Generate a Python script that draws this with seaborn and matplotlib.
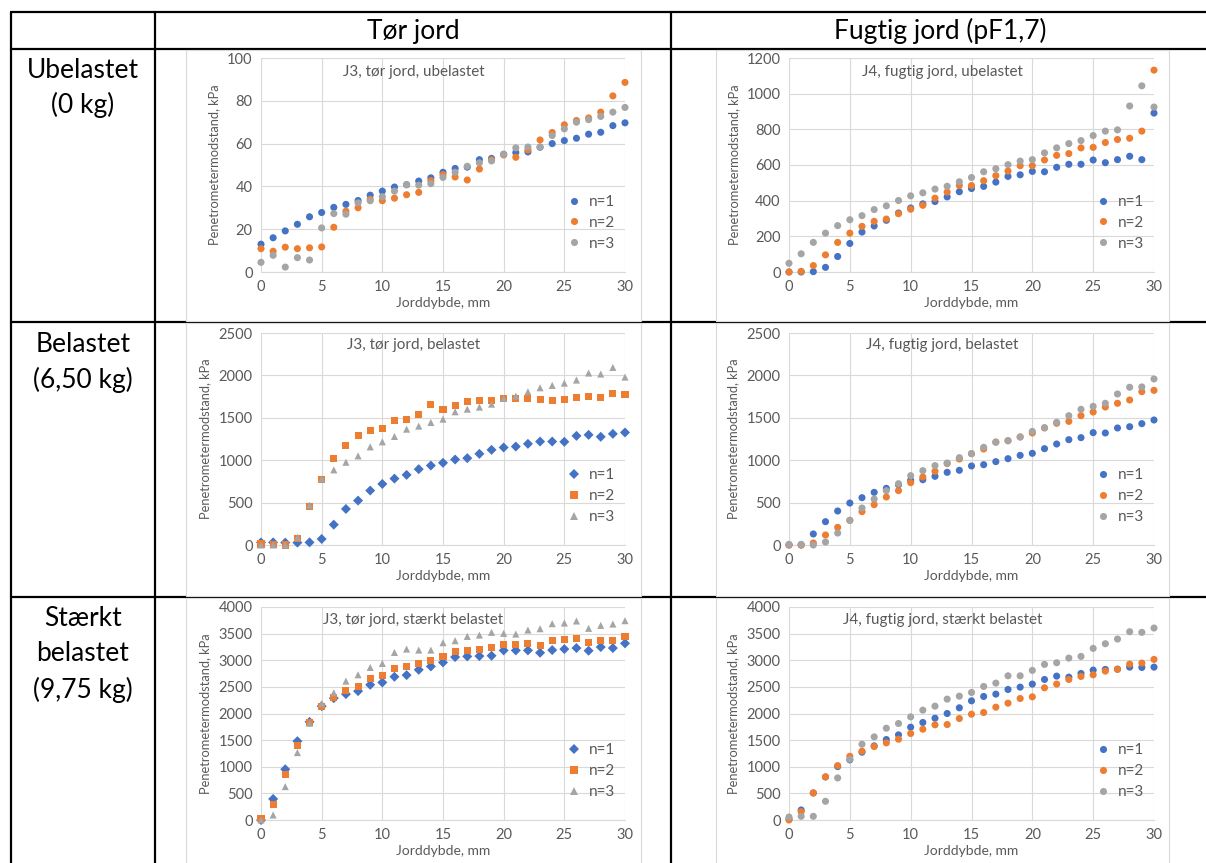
import numpy as np
import pandas as pd
import seaborn as sns
import matplotlib.pyplot as plt
from matplotlib.lines import Line2D
from matplotlib.patches import Rectangle

sns.set_style("white")
plt.rcParams['font.family'] = ['Lato', 'DejaVu Sans']

W, H = 1206, 863

# --- data (kPa) ---
depth = list(range(31))
series_names = ["n=1", "n=2", "n=3"]

j3_ubel_n1 = [13, 16, 19.2, 22.3, 25.8, 27.8, 30.2, 31.6, 33.4, 35.9, 37.8, 39.7, 40.8, 42.5, 44, 46.6,
              48.4, 49, 52.5, 53.1, 55, 55.8, 56.1, 58.3, 60, 61.4, 62.5, 64.4, 65.3, 68.4, 69.7]
j3_ubel_n2 = [10.9, 9.7, 11.6, 10.9, 11.3, 11.7, 20.9, 28.4, 30, 34, 33.3, 34.5, 36.1, 37.2, 42.7, 45.5,
              44.4, 43, 48.1, 52.5, 54.7, 53.6, 57, 61.7, 65.2, 68.8, 70.8, 72, 74.7, 82.3, 88.6]
j3_ubel_n3 = [4.5, 7.8, 2.3, 6.7, 5.6, 20.6, 27.3, 27, 32.3, 33.3, 35.2, 37.8, 40.8, 40.6, 41.3, 44.2,
              46.6, 49.4, 51, 51.9, 55, 58, 58.4, 58.4, 63.8, 66.9, 70, 71.2, 72.7, 74.7, 76.9]

j4_ubel_n1 = [0, 0, 2, 26, 87, 160, 224, 258, 290, 331, 359, 382, 395, 421, 450, 468,
              480, 504, 536, 545, 564, 562, 587, 604, 604, 628, 613, 630, 649, 630, 891]
j4_ubel_n2 = [0, 4, 36, 96, 166, 218, 256, 284, 297, 327, 352, 374, 414, 448, 485, 485,
              512, 540, 566, 596, 596, 628, 654, 664, 696, 699, 726, 743, 750, 790, 1132]
j4_ubel_n3 = [49, 102, 166, 218, 260, 293, 316, 350, 371, 401, 427, 444, 465, 481, 506, 530,
              562, 579, 602, 622, 630, 668, 696, 720, 737, 765, 790, 797, 931, 1044, 925]

j3_bel_n1 = [30, 31, 28, 28, 31, 71, 240, 425, 524, 642, 720, 783, 827, 894, 937, 969,
             1008, 1024, 1075, 1122, 1150, 1161, 1193, 1220, 1220, 1217, 1287, 1299, 1276, 1311, 1327]
j3_bel_n2 = [12, 5, 0, 79, 453, 768, 1020, 1177, 1295, 1346, 1374, 1469, 1480, 1535, 1661, 1594,
             1650, 1697, 1709, 1705, 1728, 1728, 1732, 1713, 1701, 1713, 1740, 1748, 1740, 1787, 1772]
j3_bel_n3 = [0, 0, 0, 90, 469, 780, 886, 976, 1051, 1157, 1217, 1280, 1366, 1402, 1445, 1484,
             1571, 1602, 1626, 1661, 1728, 1756, 1807, 1854, 1882, 1909, 1945, 2028, 2016, 2094, 1980]

j4_bel_n1 = [0, 0, 130, 275, 401, 495, 558, 621, 668, 711, 763, 770, 810, 857, 881, 932,
             947, 983, 1018, 1057, 1081, 1136, 1191, 1242, 1266, 1325, 1321, 1380, 1395, 1431, 1474]
j4_bel_n2 = [0, 0, 24, 118, 208, 291, 393, 476, 566, 641, 735, 802, 869, 960, 1014, 1077,
             1132, 1215, 1230, 1274, 1321, 1380, 1435, 1458, 1525, 1568, 1627, 1671, 1710, 1808, 1824]
j4_bel_n3 = [8, 8, 0, 35, 141, 291, 436, 542, 641, 723, 818, 877, 936, 967, 1030, 1077,
             1152, 1211, 1230, 1274, 1340, 1384, 1447, 1525, 1600, 1635, 1671, 1781, 1860, 1864, 1958]

j3_stb_n1 = [0, 395, 953, 1480, 1843, 2138, 2288, 2364, 2420, 2539, 2583, 2690, 2721, 2821, 2884, 2959,
             3060, 3072, 3078, 3085, 3185, 3185, 3185, 3141, 3191, 3210, 3229, 3179, 3248, 3229, 3317]
j3_stb_n2 = [25, 295, 846, 1404, 1831, 2132, 2307, 2433, 2514, 2652, 2709, 2840, 2878, 2947, 2997, 3072,
             3160, 3191, 3204, 3235, 3304, 3304, 3310, 3285, 3367, 3392, 3411, 3329, 3379, 3367, 3448]
j3_stb_n3 = [0, 94, 627, 1266, 1818, 2188, 2389, 2608, 2727, 2865, 2940, 3147, 3210, 3191, 3191, 3329,
             3367, 3448, 3473, 3524, 3505, 3492, 3567, 3592, 3687, 3699, 3737, 3599, 3655, 3680, 3743]

j4_stb_n1 = [19, 188, 508, 809, 1003, 1129, 1273, 1392, 1511, 1599, 1743, 1831, 1912, 2000, 2107, 2238,
             2320, 2364, 2451, 2495, 2552, 2639, 2702, 2683, 2752, 2815, 2828, 2834, 2871, 2865, 2871]
j4_stb_n2 = [0, 157, 508, 809, 1022, 1197, 1292, 1379, 1448, 1517, 1624, 1705, 1787, 1793, 1906, 1987,
             2019, 2119, 2194, 2282, 2313, 2483, 2552, 2639, 2696, 2727, 2796, 2828, 2928, 2947, 3016]
j4_stb_n3 = [56, 69, 69, 351, 790, 1141, 1423, 1561, 1724, 1812, 1937, 2063, 2138, 2270, 2326, 2395,
             2508, 2571, 2708, 2708, 2809, 2922, 2953, 3041, 3072, 3223, 3310, 3398, 3536, 3524, 3605]

col_headers = ["Tør jord", "Fugtig jord (pF1,7)"]
row_labels = [["Ubelastet", "(0 kg)"], ["Belastet", "(6,50 kg)"], ["Stærkt", "belastet", "(9,75 kg)"]]

chart_titles = [["J3, tør jord, ubelastet", "J4, fugtig jord, ubelastet"],
                ["J3, tør jord, belastet", "J4, fugtig jord, belastet"],
                ["J3, tør jord, stærkt belastet", "J4, fugtig jord, stærkt belastet"]]
chart_data = [[(j3_ubel_n1, j3_ubel_n2, j3_ubel_n3), (j4_ubel_n1, j4_ubel_n2, j4_ubel_n3)],
              [(j3_bel_n1, j3_bel_n2, j3_bel_n3), (j4_bel_n1, j4_bel_n2, j4_bel_n3)],
              [(j3_stb_n1, j3_stb_n2, j3_stb_n3), (j4_stb_n1, j4_stb_n2, j4_stb_n3)]]
y_max = [[100, 1200], [2500, 2500], [4000, 4000]]
y_step = [[20, 200], [500, 500], [500, 500]]
# J3 belastet charts use diamond / square / triangle markers
shape_markers = [[False, False], [True, False], [True, False]]

palette = ["#4472C4", "#ED7D31", "#A5A5A5"]
txt_grey = "#595959"
grid_grey = "#D9D9D9"


def fx(px):
    return px / W


def fy(py):
    return 1 - py / H


fig = plt.figure(figsize=(W / 100, H / 100), dpi=100)

# --- table lines ---
def hline(y, x0, x1):
    fig.add_artist(Line2D([fx(x0), fx(x1)], [fy(y), fy(y)], color="black", lw=1.6, zorder=0))


def vline(x, y0, y1):
    fig.add_artist(Line2D([fx(x), fx(x)], [fy(y0), fy(y1)], color="black", lw=1.6, zorder=0))


hline(12, 11, 1210)
hline(49, 11, 1210)
hline(322, 11, 1210)
hline(597, 11, 1210)
vline(11, 12, 870)
vline(155, 12, 870)
vline(671, 12, 870)

fig.text(fx(413), fy(31), col_headers[0], ha="center", va="center", fontsize=19, color="black")
fig.text(fx(940), fy(31), col_headers[1], ha="center", va="center", fontsize=19, color="black")

row_text_y = [[70, 105], [345, 380], [618, 653, 690]]
for lines, ys in zip(row_labels, row_text_y):
    for t, y in zip(lines, ys):
        fig.text(fx(83), fy(y), t, ha="center", va="center", fontsize=19, color="black")

# --- chart geometry in pixels ---
frame_x = [(186, 641), (716, 1169)]
frame_y = [(50, 321), (323, 596), (598, 880)]
plot_x = [(261, 625), (789, 1154)]
plot_y = [(58, 272), (333, 545), (607, 820)]

for r in range(3):
    for c in range(2):
        fx0, fx1 = frame_x[c]
        fy0, fy1 = frame_y[r]
        fig.add_artist(Rectangle((fx(fx0), fy(fy1)), fx(fx1 - fx0), (fy1 - fy0) / H,
                                 facecolor="white", edgecolor=grid_grey, lw=0.8, zorder=1))

        px0, px1 = plot_x[c]
        py0, py1 = plot_y[r]
        ax = fig.add_axes([fx(px0), fy(py1), fx(px1 - px0), (py1 - py0) / H])
        ax.set_zorder(2)
        ax.patch.set_alpha(0)

        a, b, d = chart_data[r][c]
        df = pd.DataFrame({"Jorddybde": depth, "n=1": a, "n=2": b, "n=3": d})
        df = df.melt(id_vars="Jorddybde", var_name="serie", value_name="kPa")

        if shape_markers[r][c]:
            markers = {"n=1": "D", "n=2": "s", "n=3": "^"}
            size = 26
        else:
            markers = {"n=1": "o", "n=2": "o", "n=3": "o"}
            size = 26

        sns.scatterplot(data=df, x="Jorddybde", y="kPa", hue="serie", style="serie",
                        hue_order=series_names, style_order=series_names,
                        palette=palette, markers=markers, s=size, linewidth=0,
                        ax=ax, clip_on=False, zorder=3)

        ax.set_xlim(0, 30)
        ax.set_ylim(0, y_max[r][c])
        ax.set_xticks(range(0, 31, 5))
        ax.set_yticks(range(0, y_max[r][c] + 1, y_step[r][c]))
        ax.grid(True, color=grid_grey, lw=0.8)
        ax.set_axisbelow(True)
        for side in ["top", "right", "left"]:
            ax.spines[side].set_visible(False)
        ax.spines["bottom"].set_color(grid_grey)
        ax.tick_params(axis="both", length=0, labelsize=10.5, labelcolor=txt_grey, pad=6)
        ax.set_xlabel("Jorddybde, mm", fontsize=10, color=txt_grey, labelpad=2)
        ax.set_ylabel("Penetrometermodstand, kPa", fontsize=9.3, color=txt_grey, labelpad=5)

        leg = ax.legend(loc="center left", bbox_to_anchor=(0.78, 0.23), frameon=False,
                        fontsize=11, handletextpad=0.0, labelspacing=0.45, markerscale=1.0)
        for t in leg.get_texts():
            t.set_color(txt_grey)

        fig.text(fx((fx0 + fx1) / 2), fy(frame_y[r][0] + 22), chart_titles[r][c],
                 ha="center", va="center", fontsize=11, color=txt_grey, zorder=4)

fig.savefig("out.png", dpi=100)
